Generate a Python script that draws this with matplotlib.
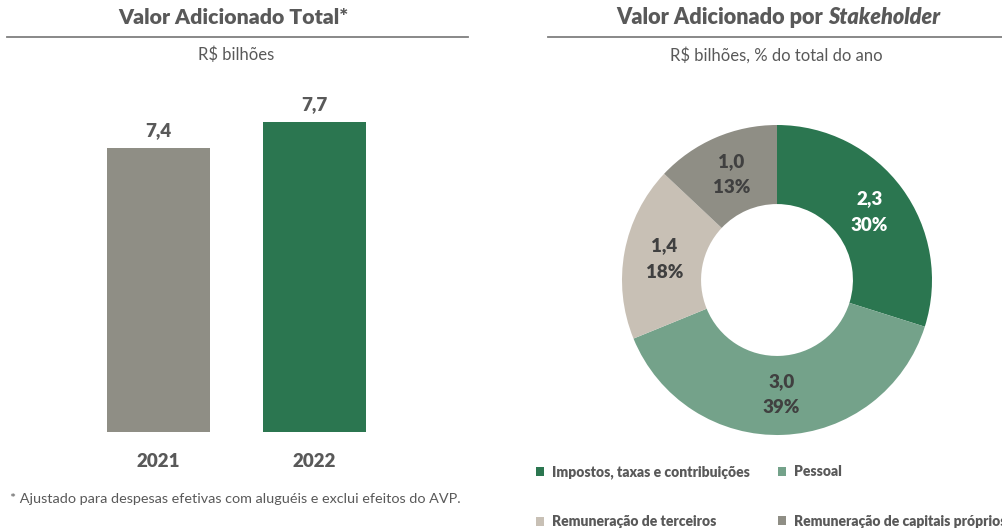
import matplotlib.pyplot as plt
import matplotlib.lines as mlines
import numpy as np

plt.rcParams['font.family'] = ['Lato', 'DejaVu Sans']
BOLD = 'heavy'

# data
years = ['2021', '2022']
total_values = [7.4, 7.7]
stakeholders = ['Impostos, taxas e contribuições', 'Pessoal',
                'Remuneração de terceiros', 'Remuneração de capitais próprios']
stake_values = [2.3, 3.0, 1.4, 1.0]
stake_pct = [30, 39, 18, 13]

GREEN = '#2B7650'
LIGHT_GREEN = '#74A28A'
BEIGE = '#C8C0B5'
GRAY = '#8F8E85'
TXT = '#595959'
DARK = '#404040'

W, H = 1003, 528
fig = plt.figure(figsize=(W / 100, H / 100), dpi=100)


def fx(px):
    return px / W


def fy(py):
    return 1 - py / H


def hline(x0, x1, y):
    fig.add_artist(mlines.Line2D([fx(x0), fx(x1)], [fy(y), fy(y)],
                                 color='#7F7F7F', lw=1.3, transform=fig.transFigure))


# titles
fig.text(fx(233), fy(17), 'Valor Adicionado Total*', ha='center', va='center',
         fontsize=15.3, fontweight=BOLD, color=TXT)
hline(7, 468, 37)
fig.text(fx(236), fy(55), 'R$ bilhões', ha='center', va='center', fontsize=12, color=TXT)

# right title: bold part + bold italic word, centred together
renderer = fig.canvas.get_renderer()
t1 = fig.text(0, fy(17), 'Valor Adicionado por', ha='left', va='center',
              fontsize=15.6, fontweight=BOLD, color=TXT)
t2 = fig.text(0, fy(17), 'Stakeholder', ha='left', va='center',
              fontsize=15.6, fontweight=BOLD, fontstyle='italic', color=TXT)
w1 = t1.get_window_extent(renderer).width
w2 = t2.get_window_extent(renderer).width
gap = 15.6 * 100 / 72 * 0.25
x0 = 778 - (w1 + gap + w2) / 2
t1.set_x(fx(x0))
t2.set_x(fx(x0 + w1 + gap))
hline(548, 1003, 37)
fig.text(fx(776), fy(55), 'R$ bilhões, % do total do ano', ha='center', va='center',
         fontsize=12, color=TXT)

# bar chart
ax = fig.add_axes([fx(81), fy(432.3), fx(311), (432.3 - 90) / H])
x = np.arange(len(years))
ax.bar(x, total_values, width=0.665, color=[GRAY, GREEN])
ax.set_xlim(-0.5, 1.5)
ax.set_ylim(4.16, 8.065)
for xi, v in zip(x, total_values):
    ax.annotate(f'{v:.1f}'.replace('.', ','), (xi, v), xytext=(0, 12.5),
                textcoords='offset points', ha='center', va='center',
                fontsize=13.5, fontweight=BOLD, color=TXT)
ax.set_xticks(x, years)
ax.tick_params(axis='x', length=0, pad=15, labelsize=13.5, labelcolor=TXT)
for lbl in ax.get_xticklabels():
    lbl.set_fontweight(BOLD)
ax.set_yticks([])
for s in ax.spines.values():
    s.set_visible(False)

fig.text(fx(10), fy(499), '* Ajustado para despesas efetivas com aluguéis e exclui efeitos do AVP.',
         ha='left', va='center', fontsize=10.4, color=TXT)

# donut
ax2 = fig.add_axes([fx(622), fy(435), fx(310), 310 / H])
colors = [GREEN, LIGHT_GREEN, BEIGE, GRAY]
wedges, _ = ax2.pie(stake_values, colors=colors, startangle=90, counterclock=False,
                    radius=1, wedgeprops=dict(width=0.51, edgecolor='none'))
ax2.set_xlim(-1, 1)
ax2.set_ylim(-1, 1)

total = sum(stake_values)
cum = np.cumsum([0] + stake_values)
for i, (v, p) in enumerate(zip(stake_values, stake_pct)):
    ang = np.deg2rad(90 - 360 * (cum[i] + v / 2) / total)
    r = 0.74
    px, py = r * np.cos(ang), r * np.sin(ang)
    c = 'white' if i == 0 else DARK
    ax2.annotate(f'{v:.1f}'.replace('.', ','), (px, py), xytext=(0, 9.5),
                 textcoords='offset points', ha='center', va='center',
                 fontsize=13.5, fontweight=BOLD, color=c)
    ax2.annotate(f'{p}%', (px, py), xytext=(0, -9.5),
                 textcoords='offset points', ha='center', va='center',
                 fontsize=13.5, fontweight=BOLD, color=c)

# legend filled row by row
order = [0, 2, 1, 3]
leg = fig.legend([wedges[i] for i in order], [stakeholders[i] for i in order],
                 ncol=2, loc='upper left',
                 bbox_to_anchor=(fx(536), fy(465)), frameon=False,
                 fontsize=10, handlelength=0.6, handleheight=0.6,
                 handletextpad=0.55, columnspacing=2.0, labelspacing=2.63,
                 borderaxespad=0, borderpad=0)
for t in leg.get_texts():
    t.set_color(TXT)
    t.set_fontweight(BOLD)

fig.savefig('out.png', dpi=100)
